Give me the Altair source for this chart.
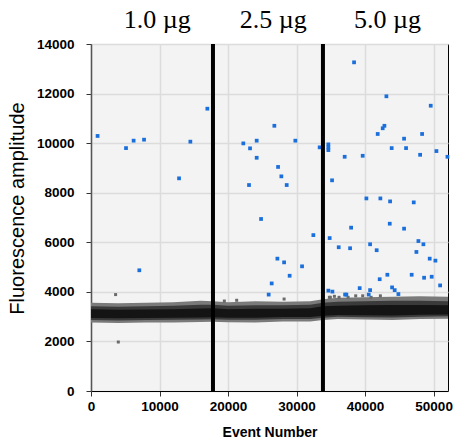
import altair as alt
import pandas as pd

# ---- data ----
blue_x = [960, 5110, 6220, 7740, 12850, 14500, 16980, 7050,
          22230, 23210, 24180, 24180, 26760, 29820, 23060, 27300, 27780, 28560, 33370,
          24820, 32450, 27200, 28180, 30800, 28990, 26370, 25930,
          34830, 34640, 38390, 43110, 49580, 42820, 42570, 41840, 48320, 45690,
          34640, 34640, 34640, 37020, 39650, 43880, 45980, 48030, 50410, 52020,
          35180, 40190, 42230, 43650, 47100, 37960, 43600, 45690, 47780, 48510,
          36150, 37810, 40730, 41690, 47490, 49430, 50260, 46800, 43250, 48610,
          49720, 42130, 50950, 39210, 43940, 44320, 44860, 40730, 40530, 35230,
          37080, 37270]
blue_y = [10290, 9800, 10100, 10140, 8580, 10060, 11390, 4870,
          9990, 9790, 10100, 9410, 10700, 10100, 8310, 9040, 8660, 8310, 9830,
          6940, 6290, 5340, 5190, 5030, 4650, 4340, 3890,
          6170, 4050, 13260, 11890, 11510, 10700, 10600, 10370, 10370, 10180,
          9950, 9830, 9720, 9450, 9490, 9800, 9800, 9530, 9680, 9450,
          8500, 7770, 7770, 7650, 7610, 6590, 6750, 6550, 6050, 5920,
          5800, 5760, 5920, 5680, 5610, 5340, 5260, 4690, 4690, 4570,
          4610, 4510, 4260, 4150, 4180, 4070, 3910, 4070, 3890, 4010,
          3890, 3890]

gray_x = [3590, 3985, 19460, 21260, 28180, 34790, 34930, 35520, 36200, 37520,
          38630, 39650, 40880, 42230]
gray_y = [3890, 1977, 3630, 3660, 3710, 3780, 3780, 3820, 3780, 3780,
          3840, 3840, 3780, 3840]

band_x = [0, 4000, 8000, 12000, 16000, 17800, 20000, 24000, 28000, 32000,
          33850, 36000, 40000, 44000, 48000, 52100]
outer_hi = [3560, 3540, 3560, 3580, 3640, 3620, 3580, 3620, 3600, 3620,
            3700, 3760, 3780, 3800, 3820, 3800]
outer_lo = [2760, 2740, 2760, 2760, 2780, 2790, 2770, 2760, 2800, 2800,
            2860, 2900, 2880, 2860, 2900, 2920]
mid_hi = [3420, 3400, 3420, 3440, 3480, 3480, 3440, 3460, 3460, 3480,
          3560, 3600, 3620, 3640, 3640, 3620]
mid_lo = [2860, 2840, 2860, 2870, 2880, 2890, 2870, 2870, 2900, 2900,
          2960, 3000, 2980, 2970, 3000, 3020]
core_hi = [3300, 3280, 3290, 3300, 3330, 3340, 3300, 3320, 3320, 3340,
           3420, 3440, 3460, 3470, 3470, 3460]
core_lo = [2950, 2940, 2950, 2960, 2970, 2980, 2960, 2960, 2990, 2990,
           3040, 3070, 3060, 3050, 3080, 3090]

line_x = [17800, 33850]
label_x = [9680, 26610, 43260]
label_text = ["1.0 µg", "2.5 µg", "5.0 µg"]

x_ticks = [0, 10000, 20000, 30000, 40000, 50000]
y_ticks = [0, 2000, 4000, 6000, 8000, 10000, 12000, 14000]

# ---- tables ----
blue_df = pd.DataFrame({"x": blue_x, "y": blue_y})
gray_df = pd.DataFrame({"x": gray_x, "y": gray_y})
band_df = pd.DataFrame({"x": band_x, "oh": outer_hi, "ol": outer_lo,
                        "mh": mid_hi, "ml": mid_lo, "ch": core_hi, "cl": core_lo})
line_df = pd.DataFrame({"x": line_x})
lab_df = pd.DataFrame({"x": label_x, "t": label_text})

W, H = 357, 347
xs = alt.Scale(domain=[0, 52100], nice=False, zero=False)
ys = alt.Scale(domain=[0, 14000], nice=False)

xaxis = alt.Axis(values=x_ticks, format="d", title="Event Number", labelFont="Liberation Sans",
                 labelFontSize=13.5, labelFontWeight="bold", labelColor="black",
                 labelPadding=3, labelFlush=False, tickSize=5, tickColor="#333",
                 domainColor="black", domainWidth=1, gridColor="#dcdcdc", gridWidth=1.5,
                 titleFont="Liberation Sans", titleFontSize=14, titleFontWeight="bold",
                 titleColor="black", titleX=W / 2, titleY=41, titleAlign="center",
                 titleBaseline="middle")
yaxis = alt.Axis(values=y_ticks, format="d", title="Fluorescence amplitude",
                 labelFont="Liberation Sans",
                 labelFontSize=13.5, labelFontWeight="bold", labelColor="black",
                 labelPadding=12, tickSize=5, tickColor="#333",
                 domainColor="#555", domainWidth=1.5, gridColor="#dcdcdc", gridWidth=1.5,
                 titleFont="Liberation Sans", titleFontSize=20, titleFontWeight="normal",
                 titleColor="black", titleAngle=270, titleX=-74, titleY=164,
                 titleAlign="center", titleBaseline="middle")

X = alt.X("x:Q", scale=xs, axis=xaxis)

outer = alt.Chart(band_df).mark_area(color="#7a7a7a").encode(
    x=X, y=alt.Y("oh:Q", scale=ys, axis=yaxis), y2="ol:Q")
mid = alt.Chart(band_df).mark_area(color="#3a3a3a").encode(
    x=X, y=alt.Y("mh:Q", scale=ys, axis=yaxis), y2="ml:Q")
core = alt.Chart(band_df).mark_area(color="#141414").encode(
    x=X, y=alt.Y("ch:Q", scale=ys, axis=yaxis), y2="cl:Q")
gray = alt.Chart(gray_df).mark_square(size=9, color="#6a6a6a", opacity=1).encode(
    x=X, y=alt.Y("y:Q", scale=ys, axis=yaxis))
blue = alt.Chart(blue_df).mark_square(size=14, color="#1a6fdc", opacity=1).encode(
    x=X, y=alt.Y("y:Q", scale=ys, axis=yaxis))
rules = alt.Chart(line_df).mark_rule(color="black", strokeWidth=4).encode(x=X)
labels = alt.Chart(lab_df).mark_text(font="Liberation Serif", fontSize=26,
                                     baseline="alphabetic", align="center",
                                     color="black").encode(
    x=X, y=alt.value(-16), text="t:N")

chart = alt.layer(outer, mid, core, gray, blue, rules, labels).properties(
    width=W, height=H,
    autosize=alt.AutoSizeParams(type="none"),
    padding={"left": 91, "top": 44, "right": 6, "bottom": 51},
    background="white",
).configure_view(fill="#f3f3f3", stroke="black", strokeWidth=1)

chart.save("out.html", embed_options={"renderer": "svg", "actions": False})
